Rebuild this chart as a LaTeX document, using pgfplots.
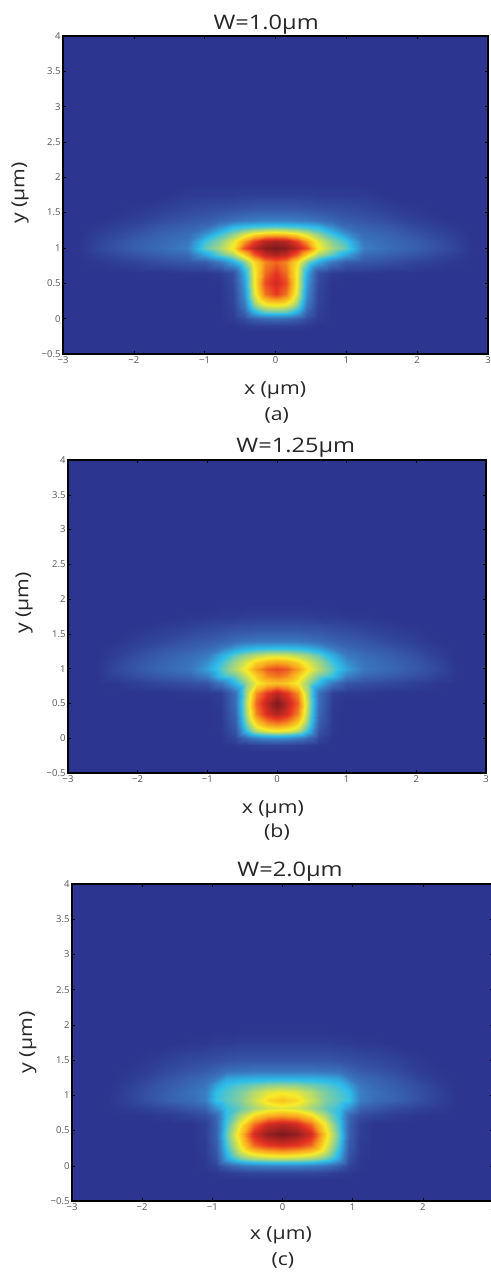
\documentclass[border=0pt]{standalone}
\usepackage{fontspec}
\setmainfont{Open Sans}
\newfontfamily\lab[FakeStretch=1.18]{Open Sans}
\usepackage{pgfplots}
\usepackage{pgfplotstable}
\pgfplotsset{compat=1.18}
\definecolor{bgblue}{RGB}{44,53,143}
\definecolor{tickgray}{RGB}{85,85,85}
\pgfplotsset{
  colormap={pjet}{
    rgb255(0cm)=(44,53,143);
    rgb255(11cm)=(55,88,170);
    rgb255(22cm)=(58,125,195);
    rgb255(36cm)=(45,190,235);
    rgb255(48cm)=(150,210,140);
    rgb255(61cm)=(248,235,40);
    rgb255(73cm)=(248,160,30);
    rgb255(86cm)=(230,50,35);
    rgb255(100cm)=(125,25,30)
  },
  mode/.style={
    scale only axis,
    anchor=north west,
    axis on top,
    clip mode=individual,
    colormap name=pjet,
    point meta min=0, point meta max=1,
    xmin=-3, xmax=3, ymin=-0.5, ymax=4,
    axis background/.style={fill=bgblue},
    axis line style={line width=1.1pt,black},
    xtick={-3,-2,-1,0,1,2,3},
    xticklabels={−3,−2,−1,0,1,2,3},
    ytick={-0.5,0,0.5,1,1.5,2,2.5,3,3.5,4},
    yticklabels={−0.5,0,0.5,1,1.5,2,2.5,3,3.5,4},
    tick align=inside,
    major tick length=3pt,
    tick style={black,line width=0.4pt},
    tick label style={font=\fontsize{9.5}{10}\selectfont,text=tickgray},
    xticklabel shift=-1pt,
    yticklabel shift=-1pt,
    title style={font=\lab\fontsize{20}{21}\selectfont,anchor=center,yshift=0pt,text=black!85},
    xlabel style={font=\lab\fontsize{18}{20}\selectfont,anchor=center,yshift=-2pt,text=black!85},
    ylabel style={font=\lab\fontsize{18}{20}\selectfont,anchor=center,text=black!85},
  },
  fieldmap/.style={surf,shader=interp,mesh/cols=12,mesh/ordering=x varies,point meta=\thisrow{v}},
}
\begin{document}
\begin{tikzpicture}
\path[use as bounding box] (0pt,0pt) rectangle (490pt,-1273pt);

% ---------- panel (a)
\begin{axis}[mode,at={(63pt,-36pt)},width=425pt,height=318pt,
  title={W=1.0µm}, title style={at={(axis description cs:0.478,1.016)}},
  xlabel={x (µm)}, xlabel style={at={(axis description cs:0.499,-0.107)}},
  ylabel={y (µm)}, ylabel style={at={(axis description cs:-0.101,0.506)}}]
\pgfplotstableread[row sep=\\]{
x y v\\
0 -.2 0\\.15 -.2 0\\.3 -.2 0\\.45 -.2 0\\.6 -.2 0\\.8 -.2 0\\1 -.2 0\\1.25 -.2 0\\1.6 -.2 0\\2 -.2 0\\2.4 -.2 0\\2.8 -.2 0\\
0 -.1 .03\\.15 -.1 .03\\.3 -.1 .02\\.45 -.1 .01\\.6 -.1 0\\.8 -.1 0\\1 -.1 0\\1.25 -.1 0\\1.6 -.1 0\\2 -.1 0\\2.4 -.1 0\\2.8 -.1 0\\
0 0 .16\\.15 0 .15\\.3 0 .12\\.45 0 .06\\.6 0 .02\\.8 0 0\\1 0 0\\1.25 0 0\\1.6 0 0\\2 0 0\\2.4 0 0\\2.8 0 0\\
0 .1 .43\\.15 .1 .42\\.3 .1 .33\\.45 .1 .14\\.6 .1 .03\\.8 .1 0\\1 .1 0\\1.25 .1 0\\1.6 .1 0\\2 .1 0\\2.4 .1 0\\2.8 .1 0\\
0 .2 .61\\.15 .2 .59\\.3 .2 .47\\.45 .2 .2\\.6 .2 .04\\.8 .2 0\\1 .2 0\\1.25 .2 0\\1.6 .2 0\\2 .2 0\\2.4 .2 0\\2.8 .2 0\\
0 .35 .85\\.15 .35 .78\\.3 .35 .57\\.45 .35 .25\\.6 .35 .05\\.8 .35 0\\1 .35 0\\1.25 .35 0\\1.6 .35 0\\2 .35 0\\2.4 .35 0\\2.8 .35 0\\
0 .5 .89\\.15 .5 .83\\.3 .5 .6\\.45 .5 .28\\.6 .5 .06\\.8 .5 0\\1 .5 0\\1.25 .5 0\\1.6 .5 0\\2 .5 0\\2.4 .5 0\\2.8 .5 0\\
0 .65 .86\\.15 .65 .79\\.3 .65 .6\\.45 .65 .32\\.6 .65 .08\\.8 .65 .02\\1 .65 .01\\1.25 .65 .01\\1.6 .65 0\\2 .65 0\\2.4 .65 0\\2.8 .65 0\\
0 .8 .8\\.15 .8 .76\\.3 .8 .63\\.45 .8 .45\\.6 .8 .32\\.8 .8 .2\\1 .8 .12\\1.25 .8 .1\\1.6 .8 .08\\2 .8 .04\\2.4 .8 .015\\2.8 .8 0\\
0 .9 .93\\.15 .9 .9\\.3 .9 .8\\.45 .9 .64\\.6 .9 .5\\.8 .9 .41\\1 .9 .3\\1.25 .9 .16\\1.6 .9 .13\\2 .9 .09\\2.4 .9 .04\\2.8 .9 0\\
0 1 1\\.15 1 .98\\.3 1 .92\\.45 1 .82\\.6 1 .62\\.8 1 .5\\1 1 .42\\1.25 1 .22\\1.6 1 .17\\2 1 .13\\2.4 1 .07\\2.8 1 0\\
0 1.1 .94\\.15 1.1 .92\\.3 1.1 .84\\.45 1.1 .72\\.6 1.1 .58\\.8 1.1 .46\\1 1.1 .38\\1.25 1.1 .2\\1.6 1.1 .16\\2 1.1 .12\\2.4 1.1 .06\\2.8 1.1 0\\
0 1.2 .68\\.15 1.2 .67\\.3 1.2 .63\\.45 1.2 .56\\.6 1.2 .47\\.8 1.2 .38\\1 1.2 .27\\1.25 1.2 .17\\1.6 1.2 .14\\2 1.2 .09\\2.4 1.2 .04\\2.8 1.2 0\\
0 1.3 .42\\.15 1.3 .41\\.3 1.3 .4\\.45 1.3 .38\\.6 1.3 .35\\.8 1.3 .26\\1 1.3 .17\\1.25 1.3 .14\\1.6 1.3 .11\\2 1.3 .06\\2.4 1.3 .02\\2.8 1.3 0\\
0 1.4 .22\\.15 1.4 .22\\.3 1.4 .21\\.45 1.4 .2\\.6 1.4 .18\\.8 1.4 .15\\1 1.4 .12\\1.25 1.4 .1\\1.6 1.4 .07\\2 1.4 .03\\2.4 1.4 .005\\2.8 1.4 0\\
0 1.55 .11\\.15 1.55 .11\\.3 1.55 .11\\.45 1.55 .1\\.6 1.55 .09\\.8 1.55 .08\\1 1.55 .07\\1.25 1.55 .06\\1.6 1.55 .03\\2 1.55 .01\\2.4 1.55 0\\2.8 1.55 0\\
0 1.75 .03\\.15 1.75 .03\\.3 1.75 .03\\.45 1.75 .03\\.6 1.75 .02\\.8 1.75 .02\\1 1.75 .02\\1.25 1.75 .02\\1.6 1.75 0\\2 1.75 0\\2.4 1.75 0\\2.8 1.75 0\\
0 1.95 0\\.15 1.95 0\\.3 1.95 0\\.45 1.95 0\\.6 1.95 0\\.8 1.95 0\\1 1.95 0\\1.25 1.95 0\\1.6 1.95 0\\2 1.95 0\\2.4 1.95 0\\2.8 1.95 0\\
}\tblA
\addplot[fieldmap] table[x=x,y=y] {\tblA};
\addplot[fieldmap] table[x expr=-\thisrow{x},y=y] {\tblA};
\node[font=\lab\fontsize{18}{20}\selectfont,text=black!85] at (axis description cs:0.503,-0.192) {(a)};
\end{axis}

% ---------- panel (b)
\begin{axis}[mode,at={(68pt,-460pt)},width=418pt,height=313pt,
  title={W=1.25µm}, title style={at={(axis description cs:0.545,1.019)}},
  xlabel={x (µm)}, xlabel style={at={(axis description cs:0.49,-0.109)}},
  ylabel={y (µm)}, ylabel style={at={(axis description cs:-0.105,0.543)}}]
\pgfplotstableread[row sep=\\]{
x y v\\
0 -.2 0\\.15 -.2 0\\.3 -.2 0\\.45 -.2 0\\.6 -.2 0\\.8 -.2 0\\1 -.2 0\\1.25 -.2 0\\1.6 -.2 0\\2 -.2 0\\2.3 -.2 0\\2.6 -.2 0\\
0 -.1 .04\\.15 -.1 .04\\.3 -.1 .03\\.45 -.1 .02\\.6 -.1 .01\\.8 -.1 0\\1 -.1 0\\1.25 -.1 0\\1.6 -.1 0\\2 -.1 0\\2.3 -.1 0\\2.6 -.1 0\\
0 0 .26\\.15 0 .25\\.3 0 .22\\.45 0 .16\\.6 0 .05\\.8 0 0\\1 0 0\\1.25 0 0\\1.6 0 0\\2 0 0\\2.3 0 0\\2.6 0 0\\
0 .1 .6\\.15 .1 .58\\.3 .1 .52\\.45 .1 .36\\.6 .1 .09\\.8 .1 .01\\1 .1 0\\1.25 .1 0\\1.6 .1 0\\2 .1 0\\2.3 .1 0\\2.6 .1 0\\
0 .2 .76\\.15 .2 .73\\.3 .2 .64\\.45 .2 .44\\.6 .2 .12\\.8 .2 .01\\1 .2 0\\1.25 .2 0\\1.6 .2 0\\2 .2 0\\2.3 .2 0\\2.6 .2 0\\
0 .35 .93\\.15 .35 .88\\.3 .35 .76\\.45 .35 .5\\.6 .35 .15\\.8 .35 .01\\1 .35 0\\1.25 .35 0\\1.6 .35 0\\2 .35 0\\2.3 .35 0\\2.6 .35 0\\
0 .5 1\\.15 .5 .92\\.3 .5 .8\\.45 .5 .52\\.6 .5 .17\\.8 .5 .02\\1 .5 0\\1.25 .5 0\\1.6 .5 0\\2 .5 0\\2.3 .5 0\\2.6 .5 0\\
0 .65 .92\\.15 .65 .86\\.3 .65 .75\\.45 .65 .5\\.6 .65 .18\\.8 .65 .03\\1 .65 .01\\1.25 .65 .01\\1.6 .65 0\\2 .65 0\\2.3 .65 0\\2.6 .65 0\\
0 .8 .68\\.15 .8 .66\\.3 .8 .6\\.45 .8 .48\\.6 .8 .35\\.8 .8 .2\\1 .8 .1\\1.25 .8 .08\\1.6 .8 .06\\2 .8 .03\\2.3 .8 .01\\2.6 .8 0\\
0 .9 .78\\.15 .9 .75\\.3 .9 .66\\.45 .9 .55\\.6 .9 .44\\.8 .9 .37\\1 .9 .22\\1.25 .9 .15\\1.6 .9 .12\\2 .9 .08\\2.3 .9 .04\\2.6 .9 0\\
0 1 .84\\.15 1 .81\\.3 1 .73\\.45 1 .62\\.6 1 .52\\.8 1 .41\\1 1 .3\\1.25 1 .2\\1.6 1 .16\\2 1 .11\\2.3 1 .06\\2.6 1 0\\
0 1.1 .72\\.15 1.1 .7\\.3 1.1 .65\\.45 1.1 .57\\.6 1.1 .49\\.8 1.1 .38\\1 1.1 .26\\1.25 1.1 .19\\1.6 1.1 .15\\2 1.1 .1\\2.3 1.1 .05\\2.6 1.1 0\\
0 1.2 .56\\.15 1.2 .55\\.3 1.2 .52\\.45 1.2 .48\\.6 1.2 .42\\.8 1.2 .32\\1 1.2 .21\\1.25 1.2 .17\\1.6 1.2 .13\\2 1.2 .08\\2.3 1.2 .03\\2.6 1.2 0\\
0 1.3 .36\\.15 1.3 .36\\.3 1.3 .35\\.45 1.3 .33\\.6 1.3 .29\\.8 1.3 .21\\1 1.3 .16\\1.25 1.3 .13\\1.6 1.3 .1\\2 1.3 .05\\2.3 1.3 .02\\2.6 1.3 0\\
0 1.4 .2\\.15 1.4 .2\\.3 1.4 .2\\.45 1.4 .19\\.6 1.4 .17\\.8 1.4 .14\\1 1.4 .12\\1.25 1.4 .1\\1.6 1.4 .06\\2 1.4 .03\\2.3 1.4 .005\\2.6 1.4 0\\
0 1.55 .11\\.15 1.55 .11\\.3 1.55 .11\\.45 1.55 .1\\.6 1.55 .1\\.8 1.55 .08\\1 1.55 .07\\1.25 1.55 .05\\1.6 1.55 .03\\2 1.55 .01\\2.3 1.55 0\\2.6 1.55 0\\
0 1.75 .03\\.15 1.75 .03\\.3 1.75 .03\\.45 1.75 .03\\.6 1.75 .02\\.8 1.75 .02\\1 1.75 .01\\1.25 1.75 .01\\1.6 1.75 0\\2 1.75 0\\2.3 1.75 0\\2.6 1.75 0\\
0 1.95 0\\.15 1.95 0\\.3 1.95 0\\.45 1.95 0\\.6 1.95 0\\.8 1.95 0\\1 1.95 0\\1.25 1.95 0\\1.6 1.95 0\\2 1.95 0\\2.3 1.95 0\\2.6 1.95 0\\
}\tblB
\addplot[fieldmap] table[x=x,y=y] {\tblB};
\addplot[fieldmap] table[x expr=-\thisrow{x},y=y] {\tblB};
\node[font=\lab\fontsize{18}{20}\selectfont,text=black!85] at (axis description cs:0.5,-0.188) {(b)};
\end{axis}

% ---------- panel (c)
\begin{axis}[mode,at={(72pt,-884pt)},width=421pt,height=317pt,
  title={W=2.0µm}, title style={at={(axis description cs:0.518,1.019)}},
  xlabel={x (µm)}, xlabel style={at={(axis description cs:0.496,-0.101)}},
  ylabel={y (µm)}, ylabel style={at={(axis description cs:-0.105,0.5)}}]
\pgfplotstableread[row sep=\\]{
x y v\\
0 -.2 0\\.2 -.2 0\\.4 -.2 0\\.6 -.2 0\\.8 -.2 0\\.95 -.2 0\\1.1 -.2 0\\1.3 -.2 0\\1.6 -.2 0\\1.9 -.2 0\\2.2 -.2 0\\2.5 -.2 0\\
0 -.1 .05\\.2 -.1 .05\\.4 -.1 .05\\.6 -.1 .04\\.8 -.1 .02\\.95 -.1 .01\\1.1 -.1 0\\1.3 -.1 0\\1.6 -.1 0\\1.9 -.1 0\\2.2 -.1 0\\2.5 -.1 0\\
0 0 .22\\.2 0 .22\\.4 0 .21\\.6 0 .18\\.8 0 .12\\.95 0 .04\\1.1 0 .01\\1.3 0 0\\1.6 0 0\\1.9 0 0\\2.2 0 0\\2.5 0 0\\
0 .1 .52\\.2 .1 .51\\.4 .1 .49\\.6 .1 .43\\.8 .1 .3\\.95 .1 .08\\1.1 .1 .01\\1.3 .1 0\\1.6 .1 0\\1.9 .1 0\\2.2 .1 0\\2.5 .1 0\\
0 .2 .72\\.2 .2 .7\\.4 .2 .66\\.6 .2 .55\\.8 .2 .35\\.95 .2 .1\\1.1 .2 .02\\1.3 .2 0\\1.6 .2 0\\1.9 .2 0\\2.2 .2 0\\2.5 .2 0\\
0 .3 .88\\.2 .3 .86\\.4 .3 .8\\.6 .3 .61\\.8 .3 .39\\.95 .3 .12\\1.1 .3 .02\\1.3 .3 0\\1.6 .3 0\\1.9 .3 0\\2.2 .3 0\\2.5 .3 0\\
0 .45 1\\.2 .45 .97\\.4 .45 .89\\.6 .45 .66\\.8 .45 .42\\.95 .45 .14\\1.1 .45 .03\\1.3 .45 0\\1.6 .45 0\\1.9 .45 0\\2.2 .45 0\\2.5 .45 0\\
0 .6 .92\\.2 .6 .89\\.4 .6 .79\\.6 .6 .6\\.8 .6 .39\\.95 .6 .14\\1.1 .6 .03\\1.3 .6 0\\1.6 .6 0\\1.9 .6 0\\2.2 .6 0\\2.5 .6 0\\
0 .72 .72\\.2 .72 .7\\.4 .72 .63\\.6 .72 .5\\.8 .72 .36\\.95 .72 .16\\1.1 .72 .08\\1.3 .72 .05\\1.6 .72 .02\\1.9 .72 .01\\2.2 .72 0\\2.5 .72 0\\
0 .82 .58\\.2 .82 .56\\.4 .82 .5\\.6 .82 .43\\.8 .82 .37\\.95 .82 .27\\1.1 .82 .14\\1.3 .82 .11\\1.6 .82 .07\\1.9 .82 .04\\2.2 .82 .02\\2.5 .82 0\\
0 .93 .68\\.2 .93 .64\\.4 .93 .55\\.6 .93 .46\\.8 .93 .41\\.95 .93 .37\\1.1 .93 .22\\1.3 .93 .17\\1.6 .93 .14\\1.9 .93 .09\\2.2 .93 .04\\2.5 .93 0\\
0 1.05 .6\\.2 1.05 .58\\.4 1.05 .52\\.6 1.05 .45\\.8 1.05 .4\\.95 1.05 .36\\1.1 1.05 .22\\1.3 1.05 .18\\1.6 1.05 .14\\1.9 1.05 .09\\2.2 1.05 .04\\2.5 1.05 0\\
0 1.15 .48\\.2 1.15 .47\\.4 1.15 .44\\.6 1.15 .41\\.8 1.15 .37\\.95 1.15 .3\\1.1 1.15 .2\\1.3 1.15 .16\\1.6 1.15 .12\\1.9 1.15 .08\\2.2 1.15 .03\\2.5 1.15 0\\
0 1.25 .33\\.2 1.25 .33\\.4 1.25 .33\\.6 1.25 .32\\.8 1.25 .3\\.95 1.25 .21\\1.1 1.25 .16\\1.3 1.25 .14\\1.6 1.25 .1\\1.9 1.25 .05\\2.2 1.25 .015\\2.5 1.25 0\\
0 1.35 .2\\.2 1.35 .2\\.4 1.35 .2\\.6 1.35 .19\\.8 1.35 .18\\.95 1.35 .15\\1.1 1.35 .12\\1.3 1.35 .1\\1.6 1.35 .07\\1.9 1.35 .03\\2.2 1.35 .01\\2.5 1.35 0\\
0 1.5 .1\\.2 1.5 .1\\.4 1.5 .1\\.6 1.5 .1\\.8 1.5 .09\\.95 1.5 .08\\1.1 1.5 .07\\1.3 1.5 .06\\1.6 1.5 .04\\1.9 1.5 .015\\2.2 1.5 0\\2.5 1.5 0\\
0 1.75 .03\\.2 1.75 .03\\.4 1.75 .03\\.6 1.75 .03\\.8 1.75 .02\\.95 1.75 .02\\1.1 1.75 .01\\1.3 1.75 .01\\1.6 1.75 0\\1.9 1.75 0\\2.2 1.75 0\\2.5 1.75 0\\
0 1.95 0\\.2 1.95 0\\.4 1.95 0\\.6 1.95 0\\.8 1.95 0\\.95 1.95 0\\1.1 1.95 0\\1.3 1.95 0\\1.6 1.95 0\\1.9 1.95 0\\2.2 1.95 0\\2.5 1.95 0\\
}\tblC
\addplot[fieldmap] table[x=x,y=y] {\tblC};
\addplot[fieldmap] table[x expr=-\thisrow{x},y=y] {\tblC};
\node[font=\lab\fontsize{18}{20}\selectfont,text=black!85] at (axis description cs:0.501,-0.189) {(c)};
\end{axis}
\end{tikzpicture}
\end{document}
